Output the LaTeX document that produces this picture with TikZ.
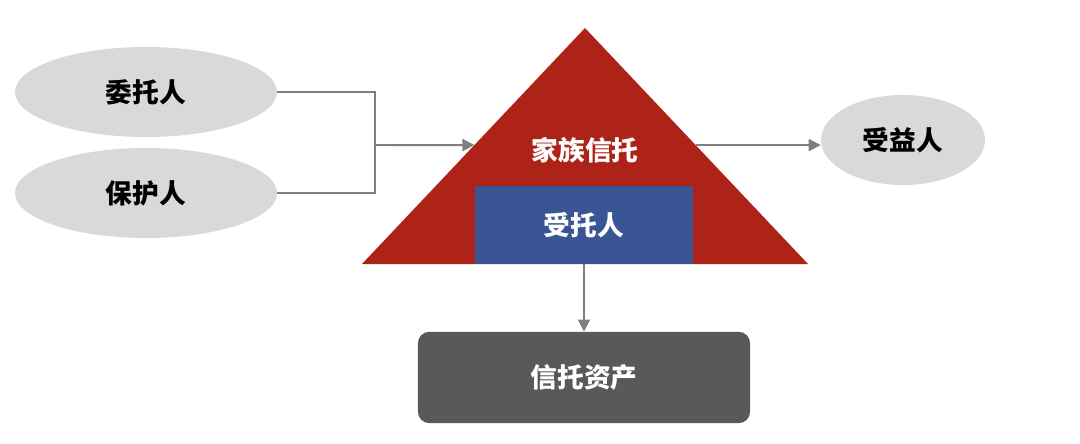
\documentclass[tikz,border=0pt]{standalone}
\usepackage{fontspec}
\newfontfamily\cjk{Noto Sans CJK SC}
\usetikzlibrary{arrows.meta,positioning,calc,shapes.geometric}
\definecolor{trustred}{HTML}{AE2318}
\definecolor{trusteeblue}{HTML}{3A5594}
\definecolor{assetgray}{HTML}{595959}
\definecolor{partygray}{HTML}{D9D9D9}
\definecolor{linkgray}{HTML}{7F7F7F}
\tikzset{
  every node/.style={font=\cjk\bfseries\fontsize{19}{22}\selectfont},
  party/.style={ellipse, fill=partygray, draw=none, minimum width=6.55cm,
                minimum height=2.25cm, text=black},
  trustee/.style={rectangle, fill=trusteeblue, minimum width=5.45cm,
                  minimum height=1.95cm, text=white},
  asset/.style={rectangle, fill=assetgray, rounded corners=8pt, minimum width=8.3cm,
                minimum height=2.28cm, text=white},
  lbl/.style={text=white},
  link/.style={draw=linkgray, line width=1.4pt},
  arr/.style={link, -{Triangle[length=3mm, width=3mm]}},
}

\begin{document}
\begin{tikzpicture}[x=0.025cm, y=-0.025cm]
\useasboundingbox (0,0) rectangle (1080,443);

% --- triangle: family trust ---
\coordinate (apex) at (585,28);
\coordinate (bl) at (362,264);
\coordinate (br) at (808,264);
\fill[trustred] (apex) -- (bl) -- (br) -- cycle;
\node[lbl] (trust) at (585,150) {家族信托};
\node[trustee] (trustee) at (584,225) {受托人};

% --- parties ---
\node[party] (settlor) at (146,92) {委托人};
\node[party] (protector) at (146,193) {保护人};
\node[party, minimum width=4.1cm] (benef) at (903,140) {受益人};
\node[asset] (asset) at (584,377.5) {信托资产};

% --- connectors ---
\coordinate (junc) at (375,145);
\coordinate (tleft) at ($(bl)!0.504!(apex)$);
\coordinate (tright) at ($(br)!0.504!(apex)$);
\draw[link] (settlor.east) -| (junc);
\draw[link] (protector.east) -| (junc);
\draw[arr] (junc) -- (tleft);
\draw[arr] (tright) -- (benef.west |- tright);
\draw[arr] (trustee.south) -- (asset.north);

\end{tikzpicture}
\end{document}
